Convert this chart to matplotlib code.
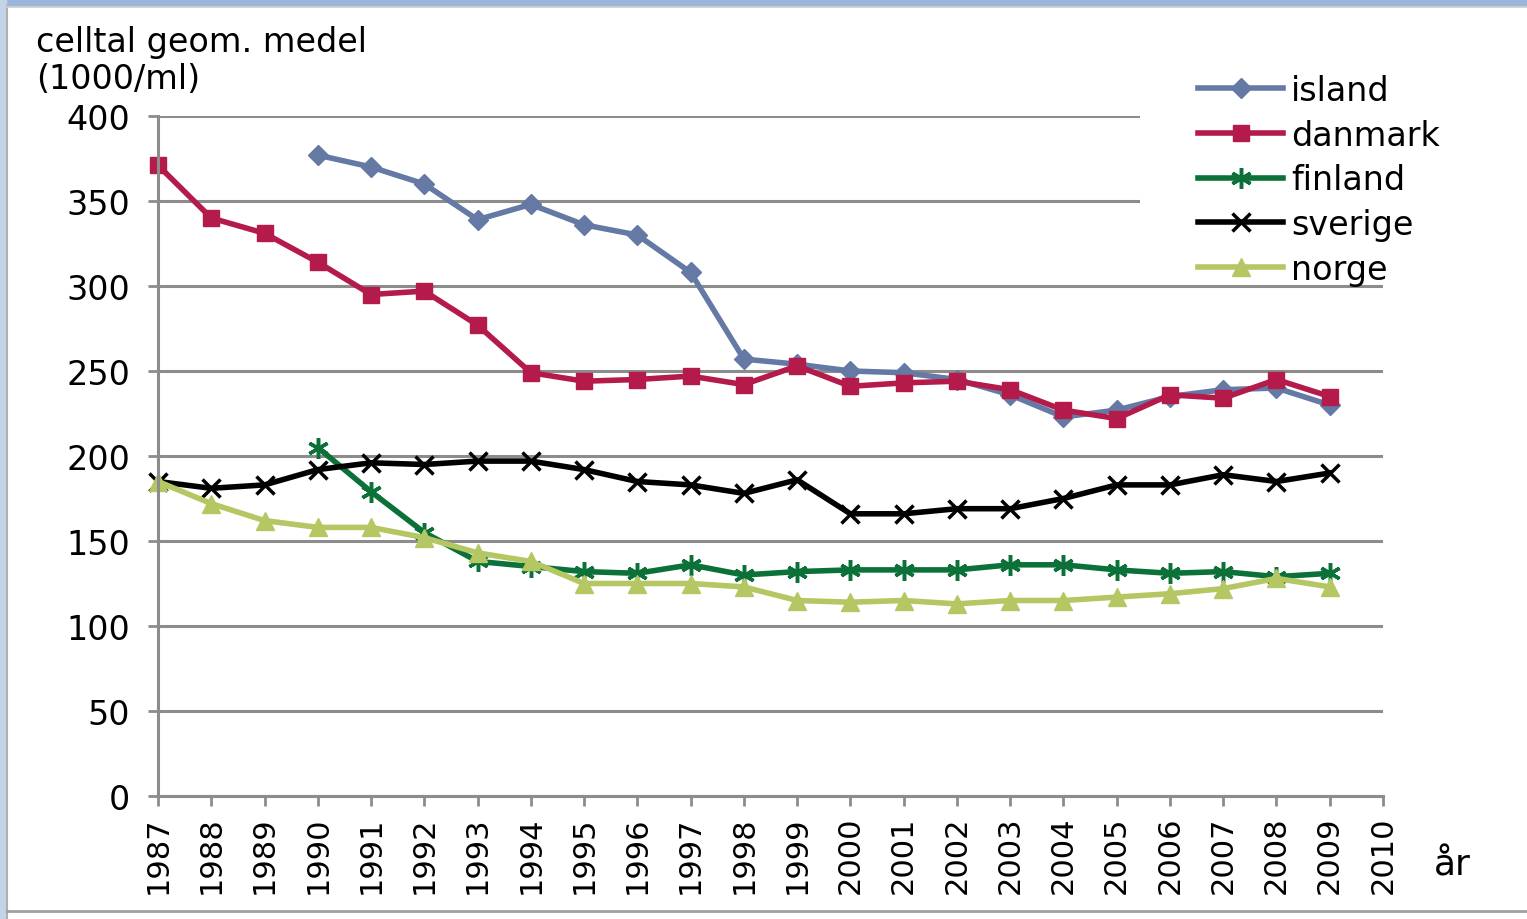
import numpy as np
import matplotlib
matplotlib.use('Agg')
import matplotlib.pyplot as plt
from matplotlib.patches import Rectangle

# DATA
years = list(range(1987, 2010))
island = [np.nan, np.nan, np.nan, 377, 370, 360, 339, 348, 336, 330, 308, 257,
          254, 250, 249, 245, 236, 223, 227, 235, 239, 240, 230]
danmark = [371, 340, 331, 314, 295, 297, 277, 249, 244, 245, 247, 242,
           253, 241, 243, 244, 239, 227, 222, 236, 234, 245, 235]
finland = [np.nan, np.nan, np.nan, 205, 179, 155, 138, 135, 132, 131, 136, 130,
           132, 133, 133, 133, 136, 136, 133, 131, 132, 129, 131]
sverige = [185, 181, 183, 192, 196, 195, 197, 197, 192, 185, 183, 178,
           186, 166, 166, 169, 169, 175, 183, 183, 189, 185, 190]
norge = [185, 172, 162, 158, 158, 152, 143, 138, 125, 125, 125, 123,
         115, 114, 115, 113, 115, 115, 117, 119, 122, 128, 123]
xticks = list(range(1987, 2011))
yticks = list(range(0, 401, 50))

W, H = 1527, 920
fs = 24
grid_col = '#8c8c8c'

fig = plt.figure(figsize=(W/100, H/100), dpi=100)
fig.patch.set_facecolor('white')

# frame decoration of the original slide
fig.patches.append(Rectangle((0, 1-7/H), 1, 7/H, transform=fig.transFigure,
                             color='#9db4dc', zorder=0))
fig.patches.append(Rectangle((0, 0), 6/W, 1, transform=fig.transFigure,
                             color='#c3d3ea', zorder=0))
fig.add_artist(plt.Line2D([7/W, 7/W], [0, 1-7/H], color='#b0b0b0', lw=1.5))
fig.add_artist(plt.Line2D([7/W, 1], [1-8/H, 1-8/H], color='#d0d0d0', lw=1.2))
fig.add_artist(plt.Line2D([7/W, 1], [1-912/H, 1-912/H], color='#a0a0a0', lw=2))

ax = fig.add_axes([158/W, 1-797/H, (1383-158)/W, (797-117)/H])

lw = 4
ax.plot(years, island, color='#6479a4', lw=lw, marker='D', ms=10,
        label='island', clip_on=False)
ax.plot(years, danmark, color='#b41a4a', lw=lw, marker='s', ms=11.5,
        label='danmark', clip_on=False)
ax.plot(years, finland, color='#0b7139', lw=lw, marker=(6, 2, 0), ms=15,
        mew=2.5, label='finland', clip_on=False)
ax.plot(years, sverige, color='black', lw=lw, marker='x', ms=13, mew=2.5,
        label='sverige', clip_on=False)
ax.plot(years, norge, color='#b4c763', lw=lw, marker='^', ms=13,
        label='norge', clip_on=False)

ax.set_xlim(1987, 2010)
ax.set_ylim(0, 400)
ax.set_xticks(xticks)
ax.set_xticklabels([str(y) for y in xticks], rotation=90, fontsize=22)
ax.set_yticks(yticks)
ax.set_yticklabels([str(v) for v in yticks], fontsize=fs)
ax.tick_params(axis='both', colors=grid_col, labelcolor='black', width=2,
               length=7)
ax.tick_params(axis='y', pad=13)
ax.tick_params(axis='x', pad=7)

for s in ['top', 'right']:
    ax.spines[s].set_visible(False)
for s in ['left', 'bottom']:
    ax.spines[s].set_color(grid_col)
    ax.spines[s].set_linewidth(2.2)

ax.set_axisbelow(True)
ax.grid(axis='y', color=grid_col, lw=2.2)
ax.grid(axis='x', visible=False)

# white box behind the legend hides the upper gridlines
ax.add_patch(Rectangle((1140/W, 1-284/H), (W-1140)/W, 200/H,
                       transform=fig.transFigure, facecolor='white',
                       edgecolor='none', zorder=1, clip_on=False))

ax.legend(loc='upper left', bbox_to_anchor=(1198/W, 1-75/H),
          bbox_transform=fig.transFigure, frameon=False, fontsize=fs,
          borderpad=0, borderaxespad=0, handlelength=2.55, handletextpad=0.25,
          labelspacing=0.35)

fig.text(36/W, 1-26/H, 'celltal geom. medel\n(1000/ml)', ha='left', va='top',
         fontsize=fs, linespacing=1.15)
fig.text(1452/W, 1-866/H, 'år', ha='center', va='center', fontsize=26)

fig.savefig('out.png', dpi=100)
